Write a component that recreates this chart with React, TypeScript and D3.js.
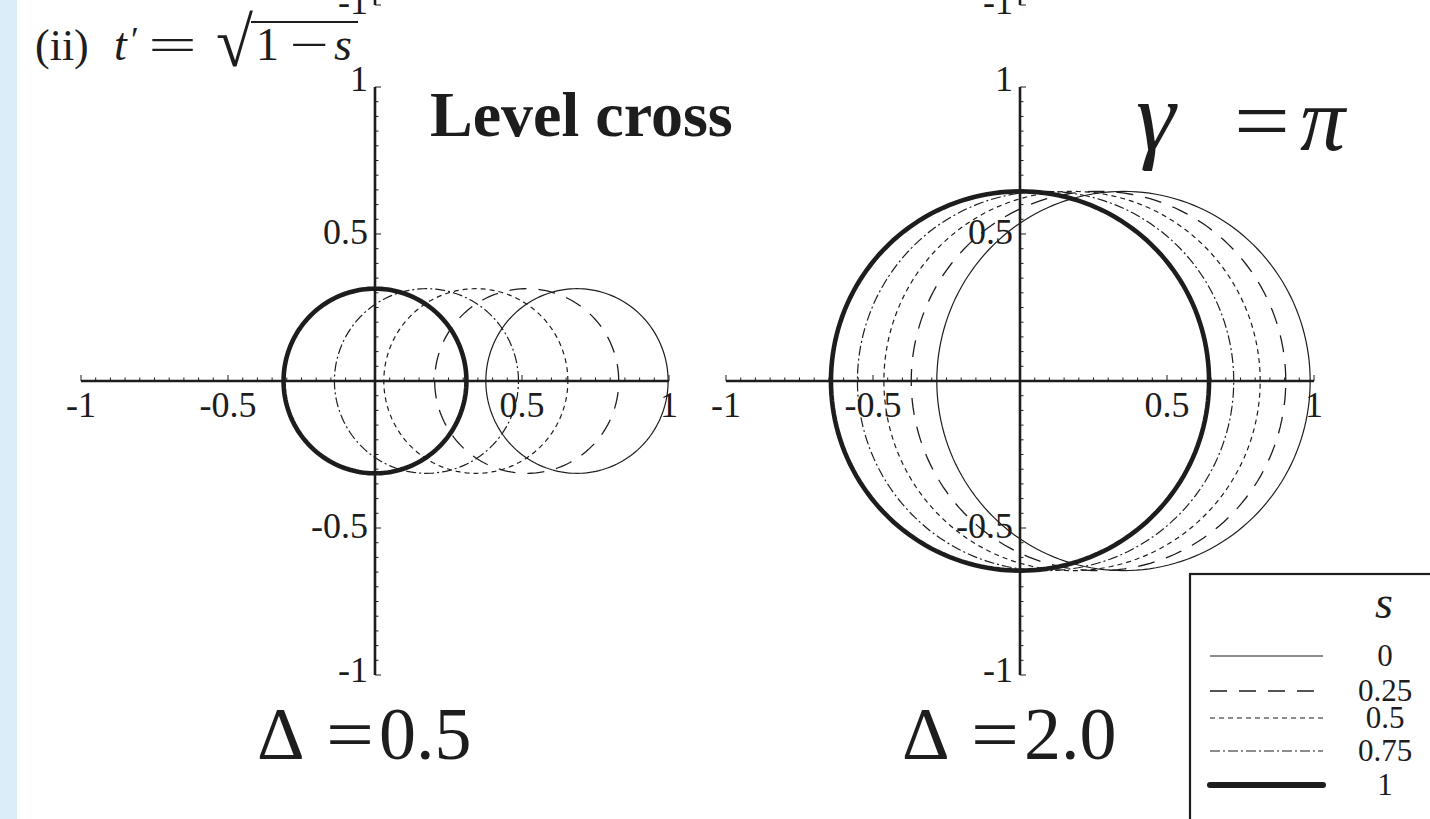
import React from "react";
import * as d3 from "d3";

const W = 1430;
const H = 819;

// family parameter s and its legend labels
const sValues = [0, 0.25, 0.5, 0.75, 1];
const sLabels = ["0", "0.25", "0.5", "0.75", "1"];

// Δ = 0.5 panel: orbit centre on the horizontal axis and radii, one per s
const centerX05 = [0.687, 0.516, 0.343, 0.175, 0.0];
const radiusX05 = [0.31, 0.313, 0.313, 0.313, 0.311];
const radiusY05 = [0.314, 0.314, 0.314, 0.314, 0.314];

// Δ = 2.0 panel
const centerX20 = [0.352, 0.267, 0.177, 0.087, 0.0];
const radiusX20 = [0.635, 0.637, 0.64, 0.64, 0.643];
const radiusY20 = [0.645, 0.645, 0.645, 0.645, 0.645];

// axis ticks
const majorTicks = [-1, -0.5, 0.5, 1];
const majorTickLabels = ["-1", "-0.5", "0.5", "1"];
const minorStep = 0.05;

// line style per s
const lineDash = ["none", "17 12", "5 4", "10 3 2 3", "none"];
const lineWidth = [1.2, 1.3, 1.2, 1.2, 4.6];

// legend row positions
const legendRowY = [656, 691, 718, 751, 785];

const INK = "#1d1d1d";
const SERIF = "'Liberation Serif', 'Times New Roman', serif";

type PanelProps = {
  xRange: [number, number];
  centers: number[];
  rx: number[];
  ry: number[];
  deltaText: string;
};

const yScale = d3.scaleLinear().domain([-1, 1]).range([675, 87]);
const angles = d3.range(0, 361, 2).map((a) => (a * Math.PI) / 180);
const minorTicks = d3.range(-20, 21).map((i) => +(i * minorStep).toFixed(2));

function Panel({ xRange, centers, rx, ry, deltaText }: PanelProps) {
  const x = d3.scaleLinear().domain([-1, 1]).range(xRange);
  const y = yScale;
  const x0 = x(0);
  const y0 = y(0);

  return (
    <g>
      {/* orbits, thick s = 1 drawn last */}
      {sValues.map((_, i) => {
        const line = d3
          .line<number>()
          .x((a) => x(centers[i] + rx[i] * Math.cos(a)))
          .y((a) => y(ry[i] * Math.sin(a)))
          .curve(d3.curveLinearClosed);
        return (
          <path
            key={"c" + i}
            d={line(angles) || ""}
            fill="none"
            stroke={INK}
            strokeWidth={lineWidth[i]}
            strokeDasharray={lineDash[i]}
          />
        );
      })}

      {/* axes */}
      <line x1={x(-1)} x2={x(1)} y1={y0} y2={y0} stroke={INK} strokeWidth={2.6} />
      <line x1={x0} x2={x0} y1={y(1)} y2={y(-1)} stroke={INK} strokeWidth={2.6} />
      {minorTicks.map((v) => {
        const major = Math.abs(v * 2 - Math.round(v * 2)) < 1e-6;
        const len = major ? 6 : 3.5;
        return (
          <g key={"t" + v}>
            <line x1={x(v)} x2={x(v)} y1={y0} y2={y0 - len} stroke={INK} strokeWidth={1} />
            <line x1={x0} x2={x0 + len} y1={y(v)} y2={y(v)} stroke={INK} strokeWidth={1} />
          </g>
        );
      })}

      {/* tick labels */}
      {majorTicks.map((v, i) => (
        <text
          key={"xl" + v}
          x={x(v)}
          y={y0 + 36}
          textAnchor="middle"
          fontFamily={SERIF}
          fontSize={36}
          fill={INK}
        >
          {majorTickLabels[i]}
        </text>
      ))}
      {majorTicks.map((v, i) => (
        <text
          key={"yl" + v}
          x={x0 - 7}
          y={y(v) + (v === 1 ? 4 : v === -1 ? 7 : 10)}
          textAnchor="end"
          fontFamily={SERIF}
          fontSize={36}
          fill={INK}
        >
          {majorTickLabels[i]}
        </text>
      ))}

      {/* bottom end of the panel above */}
      <line x1={x0} x2={x0} y1={-2} y2={5} stroke={INK} strokeWidth={2.6} />
      <line x1={x0} x2={x0 + 6} y1={5} y2={5} stroke={INK} strokeWidth={1} />
      <text x={x0 - 7} y={14} textAnchor="end" fontFamily={SERIF} fontSize={36} fill={INK}>
        -1
      </text>

      {/* Δ label */}
      <text x={x0 - 118} y={759} fontFamily={SERIF} fontSize={74} fill={INK}>
        Δ
      </text>
      <text
        x={x0 - 49}
        y={759}
        fontFamily={SERIF}
        fontSize={74}
        fill={INK}
        textLength={48}
        lengthAdjust="spacingAndGlyphs"
      >
        =
      </text>
      <text x={x0 + 4} y={759} fontFamily={SERIF} fontSize={74} fill={INK}>
        {deltaText}
      </text>
    </g>
  );
}

function Legend() {
  const x1 = 1210;
  const x2 = 1323;
  return (
    <g>
      <rect x={1190} y={574} width={300} height={300} fill="white" stroke={INK} strokeWidth={2.2} />
      <text x={1384} y={618} textAnchor="middle" fontFamily={SERIF} fontStyle="italic" fontSize={46} fill={INK}>
        s
      </text>
      {sValues.map((s, i) => (
        <g key={"lg" + s}>
          <line
            x1={x1}
            x2={x2}
            y1={legendRowY[i]}
            y2={legendRowY[i]}
            stroke={INK}
            strokeWidth={i === 4 ? 6 : lineWidth[i]}
            strokeLinecap={i === 4 ? "round" : "butt"}
            strokeDasharray={lineDash[i]}
          />
          <text
            x={1385}
            y={legendRowY[i] + 10}
            textAnchor="middle"
            fontFamily={SERIF}
            fontSize={31}
            fill={INK}
          >
            {sLabels[i]}
          </text>
        </g>
      ))}
    </g>
  );
}

export default function App() {
  return (
    <svg
      width={W}
      height={H}
      viewBox={`0 0 ${W} ${H}`}
      style={{ position: "absolute", left: 0, top: 0, background: "white" }}
    >
      <rect x={0} y={0} width={W} height={H} fill="white" />
      <rect x={0} y={0} width={17} height={H} fill="#dbedf9" />

      {/* heading formula: (ii)  t′ = √(1 − s) */}
      <text x={35} y={60} fontFamily={SERIF} fontSize={44} fill={INK}>
        (ii)
      </text>
      <text x={114} y={60} fontFamily={SERIF} fontStyle="italic" fontSize={46} fill={INK}>
        t
      </text>
      <text x={131} y={52} fontFamily={SERIF} fontSize={36} fill={INK}>
        ′
      </text>
      <text
        x={148}
        y={60}
        fontFamily={SERIF}
        fontSize={46}
        fill={INK}
        textLength={49}
        lengthAdjust="spacingAndGlyphs"
      >
        =
      </text>
      <text
        x={216}
        y={66}
        fontFamily={SERIF}
        fontSize={70}
        fill={INK}
        textLength={37}
        lengthAdjust="spacingAndGlyphs"
      >
        √
      </text>
      <line x1={251} x2={358} y1={22} y2={22} stroke={INK} strokeWidth={2} />
      <text x={256} y={60} fontFamily={SERIF} fontSize={46} fill={INK}>
        1
      </text>
      <text
        x={290}
        y={60}
        fontFamily={SERIF}
        fontSize={46}
        fill={INK}
        textLength={39}
        lengthAdjust="spacingAndGlyphs"
      >
        −
      </text>
      <text x={334} y={60} fontFamily={SERIF} fontStyle="italic" fontSize={46} fill={INK}>
        s
      </text>

      <Panel xRange={[81, 669]} centers={centerX05} rx={radiusX05} ry={radiusY05} deltaText="0.5" />
      <Panel xRange={[726, 1314]} centers={centerX20} rx={radiusX20} ry={radiusY20} deltaText="2.0" />

      <text x={430} y={136} fontFamily={SERIF} fontWeight="bold" fontSize={64} fill={INK}>
        Level cross
      </text>

      {/* γ = π */}
      <text x={1136} y={150} fontFamily={SERIF} fontStyle="italic" fontSize={100} fill={INK}>
        γ
      </text>
      <text
        x={1234}
        y={150}
        fontFamily={SERIF}
        fontSize={86}
        fill={INK}
        textLength={56}
        lengthAdjust="spacingAndGlyphs"
      >
        =
      </text>
      <text x={1300} y={150} fontFamily={SERIF} fontStyle="italic" fontSize={90} fill={INK}>
        π
      </text>

      <Legend />
    </svg>
  );
}
